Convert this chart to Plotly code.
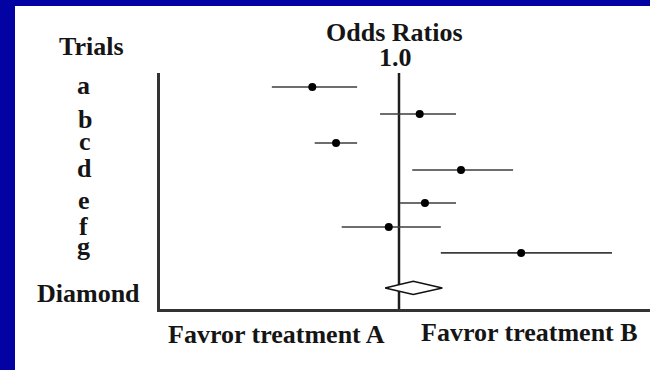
import plotly.graph_objects as go

# ---------------- data ----------------
trials = ["a", "b", "c", "d", "e", "f", "g"]
odds_ratio = [0.45, 1.21, 0.56, 1.77, 1.27, 0.91, 3.08]
ci_low = [0.31, 0.84, 0.46, 1.13, 1.01, 0.59, 1.47]
ci_high = [0.68, 1.69, 0.68, 2.86, 1.69, 1.47, 7.11]
pooled_label = "Diamond"
pooled_or = 1.14
pooled_low = 0.88
pooled_high = 1.49
ref_value = 1.0

# ---------------- layout helpers ----------------
row_pos = [0, 0.94, 1.95, 2.89, 4.04, 4.88, 5.78, 7.0]   # vertical row positions
diamond_half = 0.23

W, H = 650, 370
L, R, T, B = 160, 0, 73, 61
PW, PH = W - L - R, H - T - B
FONT = "Liberation Serif, Times New Roman, serif"
TXT = "#151515"


def px_x(px):
    return (px - L) / PW


def px_y(py):
    return (H - B - py) / PH


fig = go.Figure()

# confidence interval lines
xs, ys = [], []
for lo, hi, r in zip(ci_low, ci_high, row_pos[:len(trials)]):
    xs += [lo, hi, None]
    ys += [r, r, None]
fig.add_trace(go.Scatter(x=xs, y=ys, mode="lines",
                         line=dict(color="#3c3c3c", width=1.6),
                         hoverinfo="skip", showlegend=False))

# point estimates
fig.add_trace(go.Scatter(x=odds_ratio, y=row_pos[:len(trials)], mode="markers",
                         marker=dict(color="black", size=8, symbol="circle"),
                         text=trials, showlegend=False))

# pooled diamond
rp = row_pos[-1]
fig.add_trace(go.Scatter(
    x=[pooled_low, pooled_or, pooled_high, pooled_or, pooled_low],
    y=[rp, rp - diamond_half, rp, rp + diamond_half, rp],
    mode="lines", fill="toself", fillcolor="white",
    line=dict(color="#111111", width=1.6), showlegend=False))

shapes = [
    # reference line at OR = 1
    dict(type="line", xref="x", yref="paper", x0=ref_value, x1=ref_value,
         y0=0, y1=1, line=dict(color="#1e1e1e", width=2.5), layer="below"),
    # blue slide frame
    dict(type="rect", xref="paper", yref="paper", x0=px_x(0), x1=px_x(15),
         y0=px_y(H), y1=px_y(0), fillcolor="#0303A3", line=dict(width=0)),
    dict(type="rect", xref="paper", yref="paper", x0=px_x(0), x1=px_x(W),
         y0=px_y(6), y1=px_y(0), fillcolor="#0303A3", line=dict(width=0)),
]

annotations = []


def add_text(text, cx, baseline):
    annotations.append(dict(text=text, xref="paper", yref="paper",
                            x=px_x(cx), y=px_y(baseline - 9),
                            xanchor="center", yanchor="middle", showarrow=False,
                            font=dict(family=FONT, size=26, color=TXT, weight="bold")))


label_x = [83, 85, 85, 84, 84, 83, 83, 88.5]
label_base = [95, 128, 150, 177, 209, 235, 255, 302]
for lab, cx, bl in zip(trials + [pooled_label], label_x, label_base):
    add_text(lab, cx, bl)

add_text("Trials", 91.5, 55)
add_text("Odds Ratios", 394, 41)
add_text(f"{ref_value:.1f}", 395, 67)
add_text("Favror treatment A", 276, 343)
add_text("Favror treatment B", 529.5, 341)

fig.update_layout(
    width=W, height=H, autosize=False,
    margin=dict(l=L, r=R, t=T, b=B, pad=0),
    paper_bgcolor="white", plot_bgcolor="white",
    shapes=shapes, annotations=annotations,
    xaxis=dict(type="log", range=[-0.956, 1.004], showgrid=False, zeroline=False,
               showticklabels=False, ticks="", showline=True,
               linecolor="#333333", linewidth=2.5, fixedrange=True),
    yaxis=dict(range=[7.735, -0.488], showgrid=False, zeroline=False,
               showticklabels=False, ticks="", showline=True,
               linecolor="#333333", linewidth=2.5, fixedrange=True),
)

fig.write_html("out.html", config={"displayModeBar": False},
               post_script="document.body.style.margin='0';document.body.style.padding='0';document.body.style.overflow='hidden';")
